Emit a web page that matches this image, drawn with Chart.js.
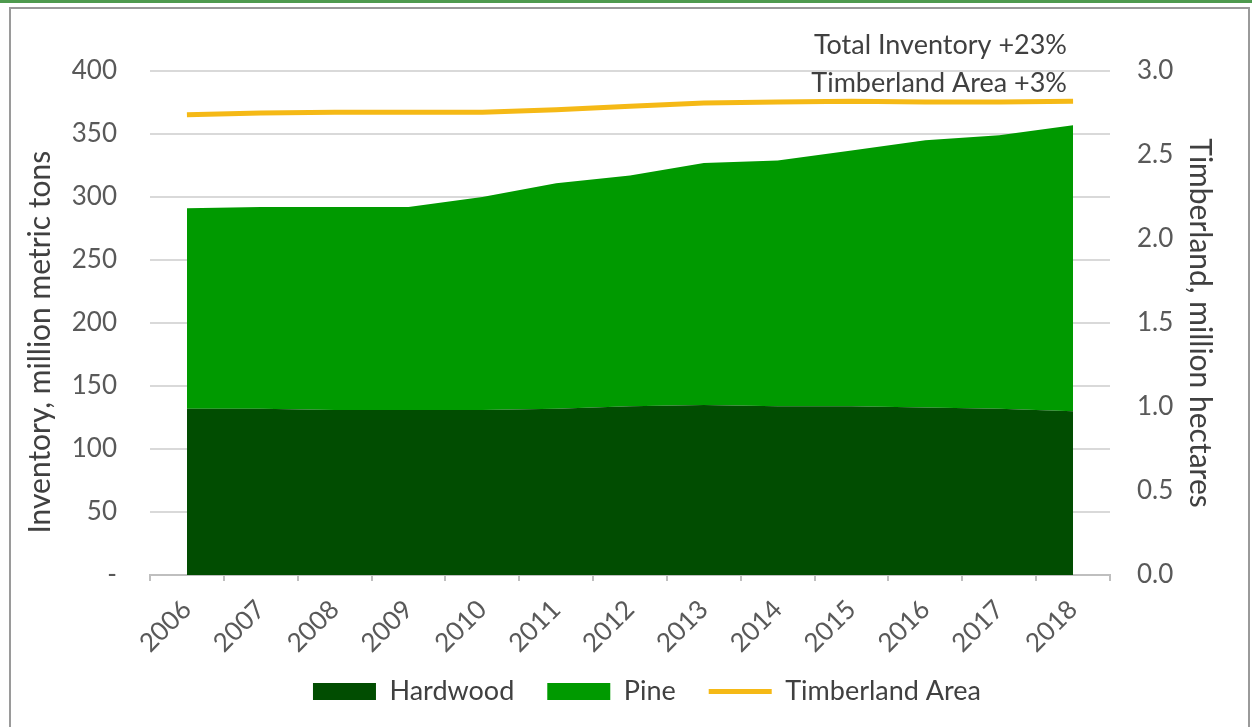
<!DOCTYPE html>
<html>
<head>
<meta charset="utf-8">
<script src="https://cdn.jsdelivr.net/npm/chart.js@4.4.1/dist/chart.umd.min.js"></script>
<style>
  html, body { margin: 0; padding: 0; background: #fff; }
  #wrap { width: 1252px; height: 727px; position: relative; }
</style>
</head>
<body>
<div id="wrap"><canvas id="chart" width="1252" height="727"></canvas></div>
<script>
// values
const years = ["2006", "2007", "2008", "2009", "2010", "2011", "2012", "2013", "2014", "2015", "2016", "2017", "2018"];
const hardwood = [132, 132, 131, 131, 131, 132, 134, 135, 134, 134, 133, 132, 130];
const pine = [159, 160, 161, 161, 169, 179, 183, 192, 195, 203, 212, 217, 227];
const timberland = [2.74, 2.75, 2.755, 2.755, 2.755, 2.77, 2.79, 2.81, 2.815, 2.82, 2.815, 2.815, 2.82];
const notes = ["Total Inventory +23%", "Timberland Area +3%"];

const FONT = "Lato, 'Open Sans', sans-serif";
const TICK_COLOR = "#595959";
const TEXT_COLOR = "#404040";

// frame around the picture + the two notes at the top right
const framePlugin = {
  id: "frame",
  afterLayout(chart) {
    // legend sits a bit right of centre and tucked up under the year labels
    const lg = chart.legend;
    const h = lg.bottom - lg.top;
    lg.left = 42;
    lg.right = chart.width;
    lg.top = 645;
    lg.bottom = 645 + h;
  },
  beforeDraw(chart) {
    const ctx = chart.ctx;
    ctx.save();
    ctx.fillStyle = "#4e9a4e";
    ctx.fillRect(0, 0, chart.width, 3);
    ctx.strokeStyle = "#9a9a9a";
    ctx.lineWidth = 2;
    ctx.beginPath();
    ctx.moveTo(10, 740);
    ctx.lineTo(10, 8);
    ctx.lineTo(1249, 8);
    ctx.lineTo(1249, 740);
    ctx.stroke();
    ctx.restore();
  },
  afterDraw(chart) {
    const ctx = chart.ctx;
    ctx.save();
    ctx.font = "27px " + FONT;
    ctx.fillStyle = TEXT_COLOR;
    ctx.textAlign = "right";
    ctx.textBaseline = "middle";
    ctx.fillText(notes[0], 1067, 45);
    ctx.fillText(notes[1], 1067, 83);
    ctx.restore();
  }
};

const ctx = document.getElementById("chart").getContext("2d");
new Chart(ctx, {
  type: "line",
  data: {
    labels: years,
    datasets: [
      {
        label: "Hardwood",
        data: hardwood,
        yAxisID: "y",
        backgroundColor: "#014d01",
        borderColor: "#014d01",
        borderWidth: 0,
        fill: "origin",
        pointRadius: 0,
        pointStyle: "rect"
      },
      {
        label: "Pine",
        data: pine,
        yAxisID: "y",
        backgroundColor: "#009a00",
        borderColor: "#009a00",
        borderWidth: 0,
        fill: "-1",
        pointRadius: 0,
        pointStyle: "rect"
      },
      {
        label: "Timberland Area",
        data: timberland,
        yAxisID: "y1",
        borderColor: "#f5b916",
        backgroundColor: "#f5b916",
        borderWidth: 5,
        fill: false,
        pointRadius: 0,
        pointStyle: "line"
      }
    ]
  },
  options: {
    responsive: false,
    animation: false,
    layout: { padding: { left: 0, right: 0, top: 71, bottom: 0 } },
    plugins: {
      tooltip: { enabled: false },
      legend: {
        position: "bottom",
        labels: {
          usePointStyle: true,
          pointStyleWidth: 63,
          boxHeight: 17,
          padding: 33,
          color: TEXT_COLOR,
          font: { family: FONT, size: 27 }
        }
      }
    },
    scales: {
      x: {
        offset: true,
        grid: { drawOnChartArea: false, drawTicks: true, tickLength: 6, offset: true, color: "#bfbfbf", lineWidth: 2 },
        border: { color: "#bfbfbf", width: 2 },
        ticks: { color: TICK_COLOR, font: { family: FONT, size: 26 }, minRotation: 45, maxRotation: 45, padding: 13 },
        afterFit(scale) { scale.height = 82; }
      },
      y: {
        stacked: true,
        min: 0,
        max: 400,
        grid: { drawTicks: false, color: "#d9d9d9", lineWidth: 2 },
        border: { display: false },
        ticks: {
          stepSize: 50,
          padding: 33,
          color: TICK_COLOR,
          font: { family: FONT, size: 26 },
          callback: (v) => (v === 0 ? "-" : v)
        },
        title: {
          display: true,
          // trailing spaces push the title a little down, as in the original
          text: "Inventory, million metric tons     ",
          color: TEXT_COLOR,
          font: { family: FONT, size: 30, lineHeight: 1.2 },
          padding: { top: 22, bottom: 0 }
        },
        afterFit(scale) { scale.width = 150; }
      },
      y1: {
        position: "right",
        min: 0,
        max: 3,
        grid: { drawOnChartArea: false, drawTicks: false },
        border: { display: false },
        ticks: {
          stepSize: 0.5,
          padding: 27,
          color: TICK_COLOR,
          font: { family: FONT, size: 26 },
          callback: (v) => Number(v).toFixed(1)
        },
        title: {
          display: true,
          text: "Timberland, million hectares",
          color: TEXT_COLOR,
          font: { family: FONT, size: 30, lineHeight: 1.2 },
          padding: { top: 34, bottom: 0 }
        },
        afterFit(scale) { scale.width = 142; }
      }
    }
  },
  plugins: [framePlugin]
});
</script>
</body>
</html>
